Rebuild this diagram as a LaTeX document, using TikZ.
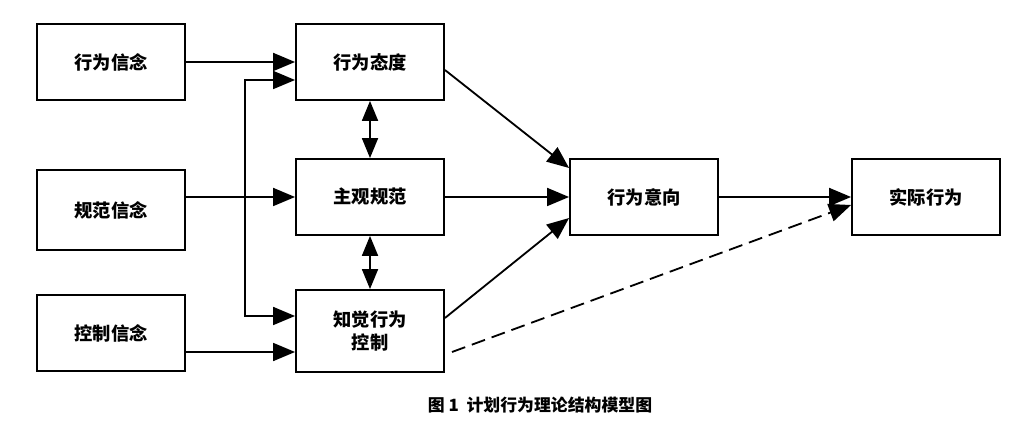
\documentclass[tikz,border=0pt]{standalone}
\usepackage{fontspec}
\setmainfont{Noto Sans CJK SC}
\usetikzlibrary{arrows.meta,positioning}
\tikzset{box/.style={draw,line width=1.3pt,minimum width=3.7cm,minimum height=1.9cm,font=\fontsize{13}{16}\selectfont\bfseries,align=center,inner sep=0pt},
flow/.style={line width=1.3pt,-{Triangle[length=0.55cm,width=0.45cm]}},
both/.style={line width=1.3pt,{Triangle[length=0.5cm,width=0.4cm]}-{Triangle[length=0.5cm,width=0.4cm]}}}
\begin{document}
\begin{tikzpicture}[x=0.025cm,y=-0.025cm]
\useasboundingbox (0,0) rectangle (1030,425);

%% boxes
\node [box] (bb) at (111,62) {行为信念};
\node [box,minimum height=2cm] (nb) at (111,210) {规范信念};
\node [box] (cb) at (111,333) {控制信念};
\node [box] (att) at (370,62) {行为态度};
\node [box] (sn) at (370,197) {主观规范};
\node [box,minimum height=2.05cm] (pbc) at (370,331) {知觉行为\\控制};
\node [box] (int) at (644,197) {行为意向};
\node [box] (beh) at (926,197) {实际行为};

%% vertical branch
\coordinate (top) at (245,80);
\coordinate (bot) at (245,316);

%% connectors
\draw [flow] (bb.east |- 0,62) -- (att.west |- 0,62);
\draw [flow,{Triangle[length=0.55cm,width=0.45cm]}-{Triangle[length=0.55cm,width=0.45cm]}] (att.west |- top) -- (top) -- (bot) -- (pbc.west |- bot);
\draw [flow] (nb.east |- sn) -- (sn.west);
\draw [flow] (cb.east |- 0,352) -- (pbc.west |- 0,352);
\draw [both] (att.south) -- (sn.north);
\draw [both] (sn.south) -- (pbc.north);
\draw [flow] (att.east |- 0,70) -- (int.west |- 0,168);
\draw [flow] (sn.east) -- (int.west);
\draw [flow] (pbc.east |- 0,318) -- (int.west |- 0,218);
\draw [flow] (int.east) -- (beh.west);
\draw [line width=1.3pt,dashed,dash pattern=on 10pt off 5pt,-{Triangle[length=0.55cm,width=0.45cm]}] (452,352) -- (beh.west |- 0,205);

%% caption
\node [font=\fontsize{12}{14}\selectfont\bfseries] (cap) at (540,405) {图 1\ \ 计划行为理论结构模型图};
\end{tikzpicture}
\end{document}
